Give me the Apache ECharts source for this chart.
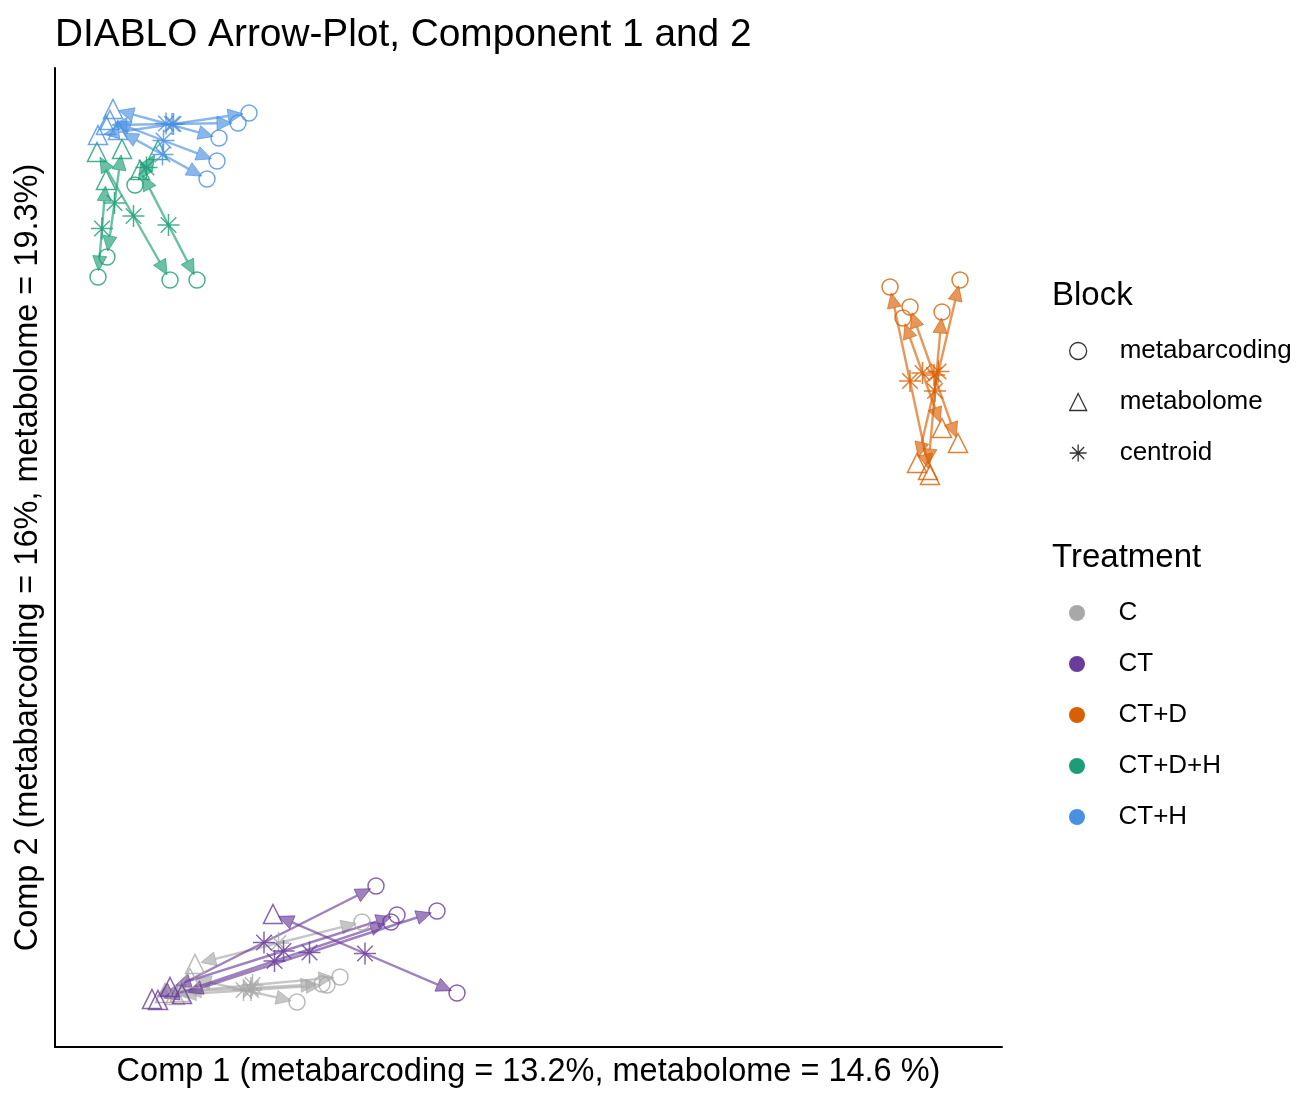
<!DOCTYPE html>
<html>
<head>
<meta charset="utf-8">
<script src="https://cdn.jsdelivr.net/npm/echarts@6/dist/echarts.min.js"></script>
<style>html,body{margin:0;padding:0;background:#fff}#chart{width:1299px;height:1095px}</style>
</head>
<body>
<div id="chart"></div>
<script>
// Treatments and colours
const treatments = ['C', 'CT', 'CT+D', 'CT+D+H', 'CT+H'];
const treatmentColors = ['#a8a8a8', '#6a3d9a', '#d95f02', '#1b9e77', '#4a90e2'];
const blocks = ['metabarcoding', 'metabolome', 'centroid'];

// Sample scores (component 1, component 2) per treatment and block
const C_metabarcoding      = [[307,125],[242,45],[267,63],[285,70],[272,62]];
const C_metabolome         = [[140,83],[135,69],[125,55],[110,54],[120,52]];
const CT_metabarcoding     = [[402,54],[321,161],[342,132],[382,136],[336,125]];
const CT_metabolome        = [[218,133],[97,48],[115,60],[127,53],[103,47]];
const CTD_metabarcoding    = [[835,760],[905,767],[855,740],[848,729],[887,735]];
const CTD_metabolome       = [[875,572],[862,584],[903,604],[887,619],[873,577]];
const CTDH_metabarcoding   = [[115,767],[52,790],[43,770],[142,767],[80,862]];
const CTDH_metabolome      = [[42,895],[67,898],[51,867],[85,877],[103,897]];
const CTH_metabarcoding    = [[194,934],[183,924],[164,909],[162,886],[152,868]];
const CTH_metabolome       = [[43,912],[51,922],[58,938],[55,927],[63,917]];

const metabarcodingByT = [C_metabarcoding, CT_metabarcoding, CTD_metabarcoding, CTDH_metabarcoding, CTH_metabarcoding];
const metabolomeByT = [C_metabolome, CT_metabolome, CTD_metabolome, CTDH_metabolome, CTH_metabolome];

const starPath = 'path://M0,-10L0,10M-10,0L10,0M-7.07,-7.07L7.07,7.07M-7.07,7.07L7.07,-7.07';
const FONT = 'Liberation Sans, Arial, sans-serif';

const series = [];
treatments.forEach((t, i) => {
  const col = treatmentColors[i];
  const mb = metabarcodingByT[i], ml = metabolomeByT[i];
  const cen = mb.map((p, k) => [(p[0] + ml[k][0]) / 2, (p[1] + ml[k][1]) / 2]);
  const arrows = [];
  cen.forEach((c, k) => {
    arrows.push([c[0], c[1], mb[k][0], mb[k][1]]);
    arrows.push([c[0], c[1], ml[k][0], ml[k][1]]);
  });
  series.push({
    name: t, type: 'custom', z: 2,
    itemStyle: {color: col},
    encode: {x: [0, 2], y: [1, 3]},
    data: arrows,
    renderItem: function (params, api) {
      const c = api.coord([api.value(0), api.value(1)]);
      const p = api.coord([api.value(2), api.value(3)]);
      const dx = p[0] - c[0], dy = p[1] - c[1];
      const len = Math.sqrt(dx * dx + dy * dy) || 1;
      const ux = dx / len, uy = dy / len;
      const gap = 6, hl = 15, hw = 7;
      const ex = p[0] - ux * gap, ey = p[1] - uy * gap;
      const bx = ex - ux * hl, by = ey - uy * hl;
      const nx = -uy, ny = ux;
      return {
        type: 'group',
        children: [
          {type: 'line', shape: {x1: c[0], y1: c[1], x2: bx, y2: by},
           style: {stroke: col, lineWidth: 2.4, opacity: 0.65}},
          {type: 'polygon', shape: {points: [[ex, ey], [bx + nx * hw, by + ny * hw], [bx - nx * hw, by - ny * hw]]},
           style: {fill: col, stroke: col, lineWidth: 1, opacity: 0.65}}
        ]
      };
    }
  });
  series.push({
    name: 'metabarcoding', type: 'scatter', z: 3, symbol: 'circle', symbolSize: 16,
    itemStyle: {color: 'rgba(0,0,0,0)', borderColor: col, borderWidth: 1.5},
    data: mb, silent: true
  });
  series.push({
    name: 'metabolome', type: 'scatter', z: 3, symbol: 'triangle', symbolSize: 19,
    itemStyle: {color: 'rgba(0,0,0,0)', borderColor: col, borderWidth: 1.5},
    data: ml, silent: true
  });
  series.push({
    name: 'centroid', type: 'scatter', z: 3, symbol: starPath, symbolSize: 22,
    itemStyle: {color: 'rgba(0,0,0,0)', borderColor: col, borderWidth: 1.5},
    data: cen, silent: true
  });
});

const chart = echarts.init(document.getElementById('chart'), null, {renderer: 'canvas'});
chart.setOption({
  animation: false,
  backgroundColor: '#fff',
  title: [
    {text: 'DIABLO Arrow-Plot, Component 1 and 2', left: 50, top: 11,
     textStyle: {fontFamily: FONT, fontSize: 38.8, fontWeight: 'normal', color: '#000'}},
    {text: 'Block', left: 1047, top: 274,
     textStyle: {fontFamily: FONT, fontSize: 33, fontWeight: 'normal', color: '#000'}},
    {text: 'Treatment', left: 1047, top: 536,
     textStyle: {fontFamily: FONT, fontSize: 33, fontWeight: 'normal', color: '#000'}}
  ],
  legend: [
    {
      orient: 'vertical', left: 1064, top: 331, itemWidth: 17, itemHeight: 17, itemGap: 21,
      selectedMode: false,
      textStyle: {fontFamily: FONT, fontSize: 26, color: '#000', lineHeight: 30, padding: [0, 0, 0, 28]},
      data: [
        {name: 'metabarcoding', icon: 'circle', itemStyle: {color: '#fff', borderColor: '#000', borderWidth: 1.3}},
        {name: 'metabolome', icon: 'triangle', itemStyle: {color: '#fff', borderColor: '#000', borderWidth: 1.3}},
        {name: 'centroid', icon: starPath, itemStyle: {color: '#fff', borderColor: '#000', borderWidth: 1.3}}
      ]
    },
    {
      orient: 'vertical', left: 1064, top: 593, itemWidth: 17, itemHeight: 16, itemGap: 21,
      selectedMode: false,
      textStyle: {fontFamily: FONT, fontSize: 26, color: '#000', lineHeight: 30, padding: [0, 0, 0, 28]},
      data: treatments.map((t, i) => ({name: t, icon: 'circle', itemStyle: {color: treatmentColors[i], borderWidth: 0}}))
    }
  ],
  grid: {left: 55, right: 297, top: 68, bottom: 48, containLabel: false},
  xAxis: {
    type: 'value', min: 0, max: 947,
    name: 'Comp 1 (metabarcoding = 13.2%, metabolome = 14.6 %)',
    nameLocation: 'middle', nameGap: 9,
    nameTextStyle: {fontFamily: FONT, fontSize: 32.5, color: '#000', verticalAlign: 'top'},
    axisLine: {show: true, onZero: false, lineStyle: {color: '#000', width: 2}},
    axisTick: {show: false}, axisLabel: {show: false}, splitLine: {show: false}
  },
  yAxis: {
    type: 'value', min: 0, max: 979,
    name: 'Comp 2 (metabarcoding = 16%, metabolome = 19.3%)',
    nameLocation: 'middle', nameGap: 10,
    nameTextStyle: {fontFamily: FONT, fontSize: 32.5, color: '#000', verticalAlign: 'bottom'},
    axisLine: {show: true, onZero: false, lineStyle: {color: '#000', width: 2}},
    axisTick: {show: false}, axisLabel: {show: false}, splitLine: {show: false}
  },
  series: series
});
</script>
</body>
</html>
